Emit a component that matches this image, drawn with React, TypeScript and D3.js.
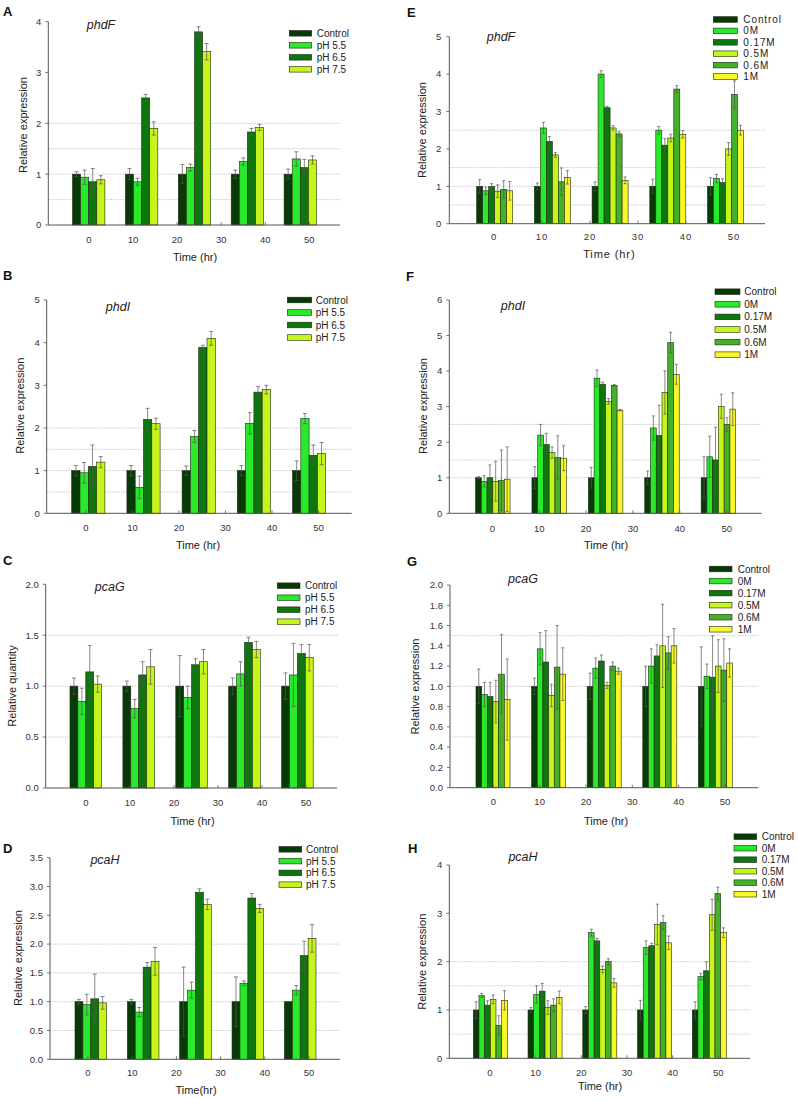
import React from "react";
import * as d3 from "d3";

// ---------- shared categories ----------
const timeTicks = [0, 10, 20, 30, 40, 50];
const samplingPoints = ["s1", "s2", "s3", "s4", "s5"];
const pHSeries = ["Control", "pH 5.5", "pH 6.5", "pH 7.5"];
const saltSeries = ["Control", "0M", "0.17M", "0.5M", "0.6M", "1M"];
const pHColors = ["#083a08", "#2ae82a", "#0f760f", "#c6f51c"];
const saltColors = ["#083a08", "#2ae82a", "#0f760f", "#c6f51c", "#45b02a", "#f7f72a"];

// ---------- A: phdF, pH ----------
const phdF_pH_mean = [
  [1, 1, 1, 1, 1],
  [0.94, 0.85, 1.13, 1.25, 1.3],
  [0.85, 2.5, 3.8, 1.83, 1.13],
  [0.89, 1.9, 3.41, 1.92, 1.28],
];
const phdF_pH_err = [
  [0.05, 0.11, 0.19, 0.08, 0.1],
  [0.14, 0.07, 0.07, 0.07, 0.14],
  [0.26, 0.07, 0.1, 0.07, 0.16],
  [0.08, 0.13, 0.16, 0.06, 0.08],
];

// ---------- B: phdI, pH ----------
const phdI_pH_mean = [
  [1, 1, 1, 1, 1],
  [0.95, 0.61, 1.8, 2.11, 2.22],
  [1.1, 2.2, 3.89, 2.84, 1.36],
  [1.2, 2.1, 4.1, 2.9, 1.4],
];
const phdI_pH_err = [
  [0.12, 0.12, 0.11, 0.12, 0.23],
  [0.24, 0.26, 0.14, 0.25, 0.12],
  [0.5, 0.26, 0.05, 0.13, 0.24],
  [0.13, 0.13, 0.16, 0.1, 0.26],
];

// ---------- C: pcaG, pH ----------
const pcaG_pH_mean = [
  [1, 1, 1, 1, 1],
  [0.85, 0.78, 0.89, 1.12, 1.11],
  [1.14, 1.11, 1.21, 1.43, 1.32],
  [1.02, 1.19, 1.24, 1.36, 1.28],
];
const pcaG_pH_err = [
  [0.08, 0.05, 0.3, 0.08, 0.13],
  [0.13, 0.09, 0.11, 0.12, 0.31],
  [0.26, 0.13, 0.06, 0.05, 0.09],
  [0.08, 0.17, 0.12, 0.08, 0.13],
];

// ---------- D: pcaH, pH ----------
const pcaH_pH_mean = [
  [1, 1, 1, 1, 1],
  [0.95, 0.82, 1.2, 1.32, 1.2],
  [1.05, 1.6, 2.9, 2.8, 1.8],
  [0.98, 1.7, 2.69, 2.62, 2.1],
];
const pcaH_pH_err = [
  [0.04, 0.04, 0.6, 0.43, 0.0],
  [0.18, 0.08, 0.14, 0.04, 0.08],
  [0.43, 0.08, 0.06, 0.08, 0.25],
  [0.11, 0.24, 0.09, 0.07, 0.24],
];

// ---------- E: phdF, NaCl ----------
const phdF_salt_mean = [
  [1, 1, 1, 1, 1],
  [0.88, 2.56, 4.0, 2.5, 1.21],
  [0.99, 2.2, 3.1, 2.1, 1.1],
  [0.87, 1.84, 2.56, 2.29, 2.0],
  [0.92, 1.12, 2.4, 3.6, 3.46],
  [0.88, 1.24, 1.16, 2.39, 2.5],
];
const phdF_salt_err = [
  [0.18, 0.09, 0.12, 0.19, 0.23],
  [0.1, 0.15, 0.09, 0.1, 0.11],
  [0.08, 0.13, 0.04, 0.18, 0.1],
  [0.17, 0.06, 0.06, 0.1, 0.17],
  [0.23, 0.37, 0.06, 0.09, 0.36],
  [0.25, 0.18, 0.09, 0.1, 0.13],
];

// ---------- F: phdI, NaCl ----------
const phdI_salt_mean = [
  [1, 1, 1, 1, 1],
  [0.9, 2.2, 3.8, 2.4, 1.59],
  [1.0, 1.94, 3.63, 2.19, 1.5],
  [0.9, 1.71, 3.15, 3.4, 3.01],
  [0.93, 1.57, 3.6, 4.8, 2.5],
  [0.96, 1.55, 2.9, 3.91, 2.93],
];
const phdI_salt_err = [
  [0.03, 0.31, 0.29, 0.19, 0.59],
  [0.16, 0.3, 0.23, 0.34, 0.58],
  [0.36, 0.31, 0.06, 0.85, 0.92],
  [0.56, 0.16, 0.08, 0.61, 0.34],
  [0.85, 0.61, 0.02, 0.29, 0.19],
  [0.91, 0.35, 0.02, 0.28, 0.46],
];

// ---------- G: pcaG, NaCl ----------
const pcaG_salt_mean = [
  [1, 1, 1, 1, 1],
  [0.92, 1.37, 1.18, 1.2, 1.1],
  [0.9, 1.24, 1.25, 1.3, 1.09],
  [0.85, 0.91, 1.01, 1.4, 1.2],
  [1.12, 1.19, 1.2, 1.33, 1.16],
  [0.87, 1.12, 1.15, 1.4, 1.23],
];
const pcaG_salt_err = [
  [0.17, 0.08, 0.13, 0.2, 0.39],
  [0.12, 0.16, 0.1, 0.17, 0.12],
  [0.14, 0.31, 0.06, 0.11, 0.41],
  [0.21, 0.11, 0.03, 0.41, 0.26],
  [0.39, 0.41, 0.04, 0.16, 0.31],
  [0.4, 0.26, 0.03, 0.17, 0.14],
];

// ---------- H: pcaH, NaCl ----------
const pcaH_salt_mean = [
  [1, 1, 1, 1, 1],
  [1.3, 1.32, 2.6, 2.29, 1.69],
  [1.1, 1.39, 2.43, 2.33, 1.81],
  [1.22, 1.05, 1.84, 2.77, 2.97],
  [0.68, 1.1, 2.0, 2.81, 3.41],
  [1.2, 1.26, 1.56, 2.39, 2.6],
];
const pcaH_salt_err = [
  [0.17, 0.05, 0.07, 0.2, 0.17],
  [0.04, 0.18, 0.07, 0.14, 0.07],
  [0.09, 0.16, 0.05, 0.05, 0.19],
  [0.09, 0.14, 0.07, 0.42, 0.32],
  [0.2, 0.13, 0.06, 0.14, 0.13],
  [0.2, 0.13, 0.09, 0.14, 0.1],
];

// ---------- panel definitions (data + layout) ----------
const FONT = "Arial, 'Liberation Sans', Helvetica, sans-serif";

const panels = [
  {
    letter: "A", gene: "phdF", series: pHSeries, colors: pHColors, mean: phdF_pH_mean, err: phdF_pH_err,
    yMax: 4, yStep: 1, yFmt: "d", grid: [0.5, 1, 1.5, 2], yLabel: "Relative expression", xLabel: "Time (hr)",
    L: { axL: 48.3, axR: 340, yT: 21.7, yB: 225, g0: 88.7, gStep: 52.9, bw: 8.1, t0: 89, t50: 309.3, tickY: 242.5,
      letterX: 3, letterY: 16, titleX: 101, titleY: 29.3, legX: 289.3, legW: 22.4, legY0: 33.3, legStep: 12, legTX: 316.7,
      yLabX: 22.7, yLabY: 125, xLabX: 195, xLabY: 261, ls: 0, cap: 4 },
  },
  {
    letter: "B", gene: "phdI", series: pHSeries, colors: pHColors, mean: phdI_pH_mean, err: phdI_pH_err,
    yMax: 5, yStep: 1, yFmt: "d", grid: [0.5, 1, 1.5, 2], yLabel: "Relative expression", xLabel: "Time (hr)",
    L: { axL: 46.7, axR: 351.7, yT: 300, yB: 513.3, g0: 88.3, gStep: 55.2, bw: 8.3, t0: 86, t50: 318.5, tickY: 530.5,
      letterX: 3, letterY: 280, titleX: 118, titleY: 311, legX: 287.3, legW: 24.4, legY0: 300, legStep: 12.5, legTX: 315.7,
      yLabX: 20, yLabY: 405.7, xLabX: 198, xLabY: 549, ls: 0, cap: 4 },
  },
  {
    letter: "C", gene: "pcaG", series: pHSeries, colors: pHColors, mean: pcaG_pH_mean, err: pcaG_pH_err,
    yMax: 2, yStep: 0.5, yFmt: ".1f", grid: [0.5, 1, 1.5], yLabel: "Relative quantity", xLabel: "Time (hr)",
    L: { axL: 45.7, axR: 337.3, yT: 584.3, yB: 788, g0: 85.8, gStep: 52.9, bw: 7.9, t0: 86, t50: 306, tickY: 805.5,
      letterX: 3, letterY: 565, titleX: 109.7, titleY: 591, legX: 277.3, legW: 22.7, legY0: 585.7, legStep: 12, legTX: 305,
      yLabX: 11.7, yLabY: 686, xLabX: 192.5, xLabY: 825, ls: 0, cap: 4 },
  },
  {
    letter: "D", gene: "pcaH", series: pHSeries, colors: pHColors, mean: pcaH_pH_mean, err: pcaH_pH_err,
    yMax: 3.5, yStep: 0.5, yFmt: ".1f", grid: [0.5, 1, 1.5, 2], yLabel: "Relative expression", xLabel: "Time(hr)",
    L: { axL: 50, axR: 340, yT: 857.7, yB: 1059.3, g0: 90.8, gStep: 52.35, bw: 7.9, t0: 88, t50: 309, tickY: 1076,
      letterX: 3, letterY: 853, titleX: 105, titleY: 864.3, legX: 279, legW: 22.7, legY0: 849.3, legStep: 11.8, legTX: 306,
      yLabX: 18.3, yLabY: 958, xLabX: 196, xLabY: 1094, ls: 0, cap: 4 },
  },
  {
    letter: "E", gene: "phdF", series: saltSeries, colors: saltColors, mean: phdF_salt_mean, err: phdF_salt_err,
    yMax: 5, yStep: 1, yFmt: "d", grid: [0.5, 1, 1.5, 2.5], yLabel: "Relative expression", xLabel: "Time (hr)",
    L: { axL: 449.3, axR: 765, yT: 36.7, yB: 223.7, g0: 494.7, gStep: 57.7, bw: 6, t0: 494, t50: 734, tickY: 239.5,
      letterX: 407, letterY: 16.5, titleX: 501, titleY: 41, legX: 713.3, legW: 24, legY0: 19.5, legStep: 11.4, legTX: 743.3,
      yLabX: 421.7, yLabY: 130, xLabX: 609.3, xLabY: 257.5, ls: 0.9, cap: 3 },
  },
  {
    letter: "F", gene: "phdI", series: saltSeries, colors: saltColors, mean: phdI_salt_mean, err: phdI_salt_err,
    yMax: 6, yStep: 1, yFmt: "d", grid: [1, 1.5, 2.5], yLabel: "Relative expression", xLabel: "Time (hr)",
    L: { axL: 449.3, axR: 761.7, yT: 300, yB: 513.3, g0: 492.8, gStep: 56.4, bw: 5.75, t0: 492.3, t50: 726.7, tickY: 532,
      letterX: 406, letterY: 281, titleX: 513, titleY: 310, legX: 715, legW: 25, legY0: 291.7, legStep: 12.6, legTX: 744.3,
      yLabX: 422.7, yLabY: 406, xLabX: 606, xLabY: 549, ls: 0, cap: 3 },
  },
  {
    letter: "G", gene: "pcaG", series: saltSeries, colors: saltColors, mean: pcaG_salt_mean, err: pcaG_salt_err,
    yMax: 2, yStep: 0.2, yFmt: ".1f", grid: [0.5, 1, 1.5], yLabel: "Relative expression", xLabel: "Time (hr)",
    L: { axL: 450, axR: 758.3, yT: 585, yB: 787.7, g0: 493, gStep: 55.6, bw: 5.67, t0: 493.3, t50: 725, tickY: 805,
      letterX: 407, letterY: 566, titleX: 523, titleY: 583.3, legX: 709.3, legW: 22.7, legY0: 569, legStep: 12.05, legTX: 737.7,
      yLabX: 415, yLabY: 686.5, xLabX: 606, xLabY: 825, ls: 0, cap: 3 },
  },
  {
    letter: "H", gene: "pcaH", series: saltSeries, colors: saltColors, mean: pcaH_salt_mean, err: pcaH_salt_err,
    yMax: 4, yStep: 1, yFmt: "d", grid: [0.5, 1, 1.5, 2], yLabel: "Relative expression", xLabel: "Time (hr)",
    L: { axL: 449.3, axR: 750, yT: 865, yB: 1058.3, g0: 490.3, gStep: 54.75, bw: 5.67, t0: 490, t50: 718.3, tickY: 1075.5,
      letterX: 408, letterY: 853.3, titleX: 523, titleY: 860.7, legX: 734, legW: 22.7, legY0: 836.7, legStep: 11.5, legTX: 761.7,
      yLabX: 421.7, yLabY: 961.7, xLabX: 600, xLabY: 1090, ls: 0, cap: 3 },
  },
];

function Panel({ p }: { p: any }) {
  const L = p.L;
  const y = d3.scaleLinear().domain([0, p.yMax]).range([L.yB, L.yT]);
  const g = d3.scaleLinear().domain([0, samplingPoints.length - 1])
    .range([L.g0, L.g0 + (samplingPoints.length - 1) * L.gStep]);
  const t = d3.scaleLinear().domain([0, 50]).range([L.t0, L.t50]);
  const fmt = d3.format(p.yFmt);
  const yTicks = d3.range(0, p.yMax + p.yStep / 2, p.yStep);
  const nS = p.series.length;
  const ls = L.ls;

  return (
    <g fontFamily={FONT}>
      {/* panel letter */}
      <text x={L.letterX} y={L.letterY} fontSize={13} fontWeight="bold" fill="#111">{p.letter}</text>

      {/* grid lines */}
      {p.grid.map((v: number) => (
        <line key={"gr" + v} x1={L.axL} x2={L.axR} y1={y(v)} y2={y(v)}
          stroke="#9a9a9a" strokeWidth={0.6} strokeDasharray="1.2,1.2" />
      ))}

      {/* bars */}
      {p.series.map((s: string, si: number) =>
        samplingPoints.map((sp: string, gi: number) => {
          const v = p.mean[si][gi];
          const x0 = g(gi) - (nS * L.bw) / 2 + si * L.bw;
          return (
            <rect key={s + sp} x={x0} y={y(v)} width={L.bw} height={y(0) - y(v)}
              fill={p.colors[si]} stroke="#1d2a12" strokeWidth={0.6} />
          );
        })
      )}

      {/* error bars */}
      {p.series.map((s: string, si: number) =>
        samplingPoints.map((sp: string, gi: number) => {
          const v = p.mean[si][gi];
          const e = p.err[si][gi];
          if (!e) return null;
          const cx = g(gi) - (nS * L.bw) / 2 + (si + 0.5) * L.bw;
          const hi = y(v + e);
          const lo = y(Math.max(0, v - e));
          return (
            <g key={"e" + s + sp} stroke="#555" strokeWidth={0.7}>
              <line x1={cx} x2={cx} y1={hi} y2={lo} />
              <line x1={cx - L.cap / 2} x2={cx + L.cap / 2} y1={hi} y2={hi} />
              <line x1={cx - L.cap / 2} x2={cx + L.cap / 2} y1={lo} y2={lo} />
            </g>
          );
        })
      )}

      {/* axes */}
      <line x1={L.axL} x2={L.axL} y1={L.yT} y2={L.yB} stroke="#555" strokeWidth={1} />
      <line x1={L.axL} x2={L.axR} y1={L.yB} y2={L.yB} stroke="#555" strokeWidth={1} />

      {/* y ticks */}
      {yTicks.map((v: number) => (
        <g key={"yt" + v}>
          <line x1={L.axL - 3} x2={L.axL} y1={y(v)} y2={y(v)} stroke="#555" strokeWidth={0.8} />
          <text x={L.axL - 7} y={y(v)} dy="0.35em" textAnchor="end" fontSize={9.5} fill="#333" letterSpacing={ls}>{fmt(v)}</text>
        </g>
      ))}

      {/* x ticks (time) */}
      {timeTicks.map((v: number) => (
        <g key={"xt" + v}>
          <line x1={t(v)} x2={t(v)} y1={L.yB - 3} y2={L.yB} stroke="#555" strokeWidth={0.8} />
          <text x={t(v)} y={L.tickY} textAnchor="middle" fontSize={9.5} fill="#333" letterSpacing={ls}>{v}</text>
        </g>
      ))}

      {/* axis titles */}
      <text x={L.xLabX} y={L.xLabY} textAnchor="middle" fontSize={11} fill="#222" letterSpacing={ls}>{p.xLabel}</text>
      <text transform={`translate(${L.yLabX},${L.yLabY}) rotate(-90)`} dy="0.35em" textAnchor="middle"
        fontSize={11} fill="#222">{p.yLabel}</text>

      {/* gene title */}
      <text x={L.titleX} y={L.titleY} textAnchor="middle" fontSize={12.5} fontStyle="italic" fill="#222">{p.gene}</text>

      {/* legend */}
      {p.series.map((s: string, si: number) => {
        const cy = L.legY0 + si * L.legStep;
        return (
          <g key={"lg" + s}>
            <rect x={L.legX} y={cy - 2.8} width={L.legW} height={5.6} fill={p.colors[si]} stroke="#1d2a12" strokeWidth={0.6} />
            <text x={L.legTX} y={cy} dy="0.35em" fontSize={10} fill="#222" letterSpacing={ls}>{s}</text>
          </g>
        );
      })}
    </g>
  );
}

export default function App() {
  return (
    <svg width={798} height={1101} viewBox="0 0 798 1101"
      style={{ position: "absolute", left: 0, top: 0, display: "block", background: "#fff" }}>
      <rect x={0} y={0} width={798} height={1101} fill="#fff" />
      {panels.map((p) => <Panel key={p.letter} p={p} />)}
    </svg>
  );
}
